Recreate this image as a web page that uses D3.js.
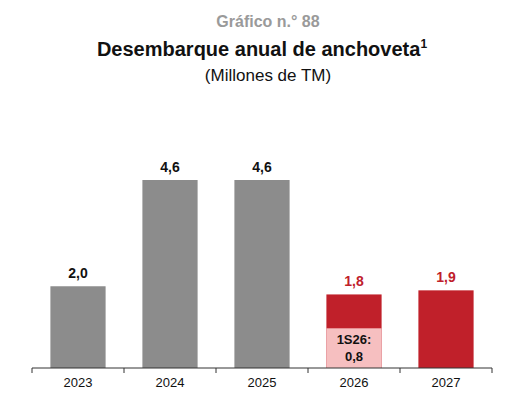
<!DOCTYPE html>
<html><head><meta charset="utf-8">
<script src="https://cdn.jsdelivr.net/npm/d3@7"></script>
<style>body{margin:0;background:#fff;font-family:"Liberation Sans",Arial,sans-serif}</style>
</head><body>
<script>
const years = ['2023', '2024', '2025', '2026', '2027'];
const totals = [2.0, 4.6, 4.6, 1.8, 1.9];
const firstHalf = [null, null, null, 0.8, null];
const labels = ['2,0', '4,6', '4,6', '1,8', '1,9'];
const isForecast = [false, false, false, true, true];

const width = 507, height = 404;
const svg = d3.select('body').append('svg').attr('width', width).attr('height', height);

const x = d3.scaleBand().domain(years).range([32, 492]).paddingInner(0.4).paddingOuter(0.2);
const y = d3.scaleLinear().domain([0, 4.6]).range([368, 180]);

svg.append('text').attr('x', 268).attr('y', 27).attr('text-anchor', 'middle')
  .attr('font-size', 16).attr('font-weight', 'bold').attr('fill', '#9a9a9a').text('Gráfico n.° 88');
const t = svg.append('text').attr('x', 262).attr('y', 56).attr('text-anchor', 'middle')
  .attr('font-size', 20).attr('font-weight', 'bold').attr('fill', '#111').text('Desembarque anual de anchoveta');
t.append('tspan').attr('font-size', 12).attr('dy', -8).text('1');
svg.append('text').attr('x', 268).attr('y', 81).attr('text-anchor', 'middle')
  .attr('font-size', 17).attr('fill', '#111').text('(Millones de TM)');

svg.selectAll('rect.bar').data(years).enter().append('rect')
  .attr('x', d => x(d)).attr('width', x.bandwidth())
  .attr('y', (d, i) => y(totals[i])).attr('height', (d, i) => y(0) - y(totals[i]))
  .attr('fill', (d, i) => isForecast[i] ? '#c0202a' : '#8c8c8c');

svg.selectAll('rect.half').data(years.filter((d, i) => firstHalf[i] != null)).enter().append('rect')
  .attr('x', d => x(d)).attr('width', x.bandwidth())
  .attr('y', d => y(firstHalf[years.indexOf(d)]) - 7)
  .attr('height', d => y(0) - y(firstHalf[years.indexOf(d)]) + 7)
  .attr('fill', '#f6bfc0');
years.forEach((d, i) => {
  if (firstHalf[i] == null) return;
  const cx = x(d) + x.bandwidth() / 2;
  svg.append('text').attr('x', cx).attr('y', 344).attr('text-anchor', 'middle')
    .attr('font-size', 13).attr('font-weight', 'bold').attr('fill', '#111').text('1S26:');
  svg.append('text').attr('x', cx).attr('y', 361).attr('text-anchor', 'middle')
    .attr('font-size', 13).attr('font-weight', 'bold').attr('fill', '#111')
    .text(String(firstHalf[i]).replace('.', ','));
});

svg.selectAll('text.val').data(years).enter().append('text')
  .attr('x', d => x(d) + x.bandwidth() / 2).attr('y', (d, i) => y(totals[i]) - 8)
  .attr('text-anchor', 'middle').attr('font-size', 14).attr('font-weight', 'bold')
  .attr('fill', (d, i) => isForecast[i] ? '#c0202a' : '#111').text((d, i) => labels[i]);

const ax = svg.append('g').attr('transform', `translate(0,${y(0)})`)
  .call(d3.axisBottom(x).tickSize(0).tickPadding(10));
ax.select('.domain').attr('stroke', '#333').attr('d', 'M32,0H492');
ax.selectAll('text').attr('font-size', 13).attr('fill', '#111').attr('font-family', '"Liberation Sans",Arial,sans-serif');
const step = x.step();
const bounds = [32].concat(years.map(d => x(d) + x.bandwidth() + step * 0.2));
ax.selectAll('line.sep').data(bounds).enter().append('line')
  .attr('x1', d => d).attr('x2', d => d).attr('y1', 0).attr('y2', 5).attr('stroke', '#333');
</script>
</body></html>
